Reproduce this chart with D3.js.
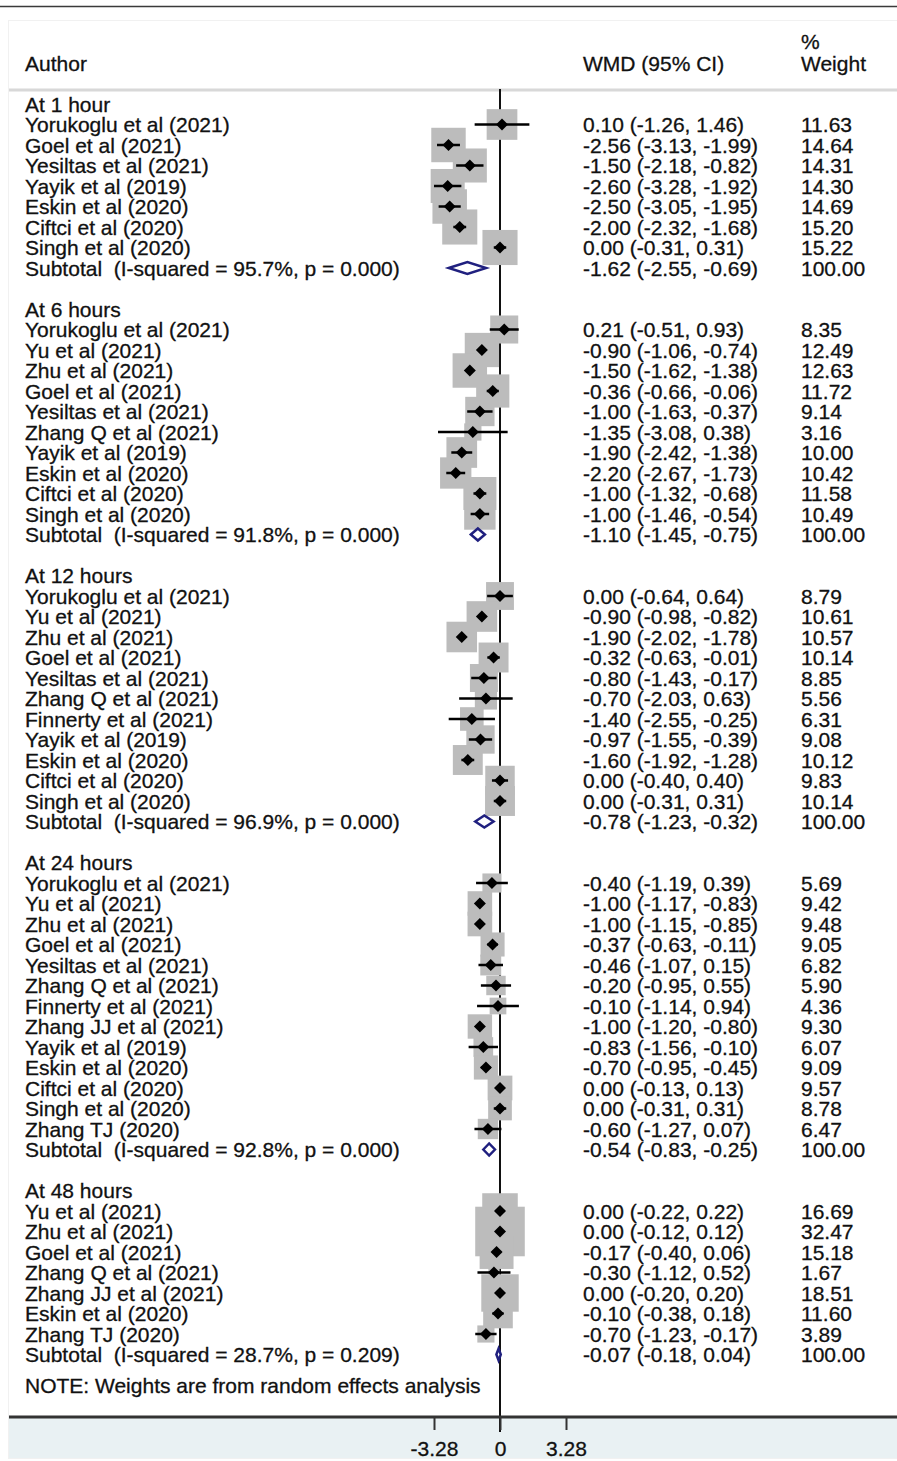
<!DOCTYPE html>
<html>
<head>
<meta charset="utf-8">
<script src="https://cdn.jsdelivr.net/npm/d3@7"></script>
<style>
  html, body { margin: 0; padding: 0; background: #fff; }
  svg text { font-family: "Liberation Sans", Arial, sans-serif; font-size: 21px; fill: #111; stroke: #111; stroke-width: 0.3px; white-space: pre; }
</style>
</head>
<body>
<svg id="chart" width="897" height="1461"></svg>
<script>
// Subgroups (time points) with their pooled random-effects estimates
const groupLabels   = ["At 1 hour", "At 6 hours", "At 12 hours", "At 24 hours", "At 48 hours"];
const subtotalHet   = ["I-squared = 95.7%, p = 0.000", "I-squared = 91.8%, p = 0.000", "I-squared = 96.9%, p = 0.000", "I-squared = 92.8%, p = 0.000", "I-squared = 28.7%, p = 0.209"];
const subtotalWMD   = [-1.62, -1.10, -0.78, -0.54, -0.07];
const subtotalLow   = [-2.55, -1.45, -1.23, -0.83, -0.18];
const subtotalHigh  = [-0.69, -0.75, -0.32, -0.25, 0.04];

// Individual studies, in display order, with the subgroup they belong to
const studyGroup = [
  0,0,0,0,0,0,0,
  1,1,1,1,1,1,1,1,1,1,
  2,2,2,2,2,2,2,2,2,2,2,
  3,3,3,3,3,3,3,3,3,3,3,3,3,
  4,4,4,4,4,4,4
];
const studyAuthor = [
  "Yorukoglu et al (2021)", "Goel et al (2021)", "Yesiltas et al (2021)", "Yayik et al (2019)", "Eskin et al (2020)", "Ciftci et al (2020)", "Singh et al (2020)",
  "Yorukoglu et al (2021)", "Yu et al (2021)", "Zhu et al (2021)", "Goel et al (2021)", "Yesiltas et al (2021)", "Zhang Q et al (2021)", "Yayik et al (2019)", "Eskin et al (2020)", "Ciftci et al (2020)", "Singh et al (2020)",
  "Yorukoglu et al (2021)", "Yu et al (2021)", "Zhu et al (2021)", "Goel et al (2021)", "Yesiltas et al (2021)", "Zhang Q et al (2021)", "Finnerty et al (2021)", "Yayik et al (2019)", "Eskin et al (2020)", "Ciftci et al (2020)", "Singh et al (2020)",
  "Yorukoglu et al (2021)", "Yu et al (2021)", "Zhu et al (2021)", "Goel et al (2021)", "Yesiltas et al (2021)", "Zhang Q et al (2021)", "Finnerty et al (2021)", "Zhang JJ et al (2021)", "Yayik et al (2019)", "Eskin et al (2020)", "Ciftci et al (2020)", "Singh et al (2020)", "Zhang TJ (2020)",
  "Yu et al (2021)", "Zhu et al (2021)", "Goel et al (2021)", "Zhang Q et al (2021)", "Zhang JJ et al (2021)", "Eskin et al (2020)", "Zhang TJ (2020)"
];
const studyWMD = [
  0.10, -2.56, -1.50, -2.60, -2.50, -2.00, 0.00,
  0.21, -0.90, -1.50, -0.36, -1.00, -1.35, -1.90, -2.20, -1.00, -1.00,
  0.00, -0.90, -1.90, -0.32, -0.80, -0.70, -1.40, -0.97, -1.60, 0.00, 0.00,
  -0.40, -1.00, -1.00, -0.37, -0.46, -0.20, -0.10, -1.00, -0.83, -0.70, 0.00, 0.00, -0.60,
  0.00, 0.00, -0.17, -0.30, 0.00, -0.10, -0.70
];
const studyLow = [
  -1.26, -3.13, -2.18, -3.28, -3.05, -2.32, -0.31,
  -0.51, -1.06, -1.62, -0.66, -1.63, -3.08, -2.42, -2.67, -1.32, -1.46,
  -0.64, -0.98, -2.02, -0.63, -1.43, -2.03, -2.55, -1.55, -1.92, -0.40, -0.31,
  -1.19, -1.17, -1.15, -0.63, -1.07, -0.95, -1.14, -1.20, -1.56, -0.95, -0.13, -0.31, -1.27,
  -0.22, -0.12, -0.40, -1.12, -0.20, -0.38, -1.23
];
const studyHigh = [
  1.46, -1.99, -0.82, -1.92, -1.95, -1.68, 0.31,
  0.93, -0.74, -1.38, -0.06, -0.37, 0.38, -1.38, -1.73, -0.68, -0.54,
  0.64, -0.82, -1.78, -0.01, -0.17, 0.63, -0.25, -0.39, -1.28, 0.40, 0.31,
  0.39, -0.83, -0.85, -0.11, 0.15, 0.55, 0.94, -0.80, -0.10, -0.45, 0.13, 0.31, 0.07,
  0.22, 0.12, 0.06, 0.52, 0.20, 0.18, -0.17
];
const studyWeight = [
  11.63, 14.64, 14.31, 14.30, 14.69, 15.20, 15.22,
  8.35, 12.49, 12.63, 11.72, 9.14, 3.16, 10.00, 10.42, 11.58, 10.49,
  8.79, 10.61, 10.57, 10.14, 8.85, 5.56, 6.31, 9.08, 10.12, 9.83, 10.14,
  5.69, 9.42, 9.48, 9.05, 6.82, 5.90, 4.36, 9.30, 6.07, 9.09, 9.57, 8.78, 6.47,
  16.69, 32.47, 15.18, 1.67, 18.51, 11.60, 3.89
];
const axisTicks = [-3.28, 0, 3.28];
const noteText = "NOTE: Weights are from random effects analysis";

// ---- layout ----
const W = 897;
const colAuthor = 25, colCI = 583, colWeight = 801;
const rowTop = 104, rowStep = 20.5, baseShift = 7.5;
const axisY = 1417;
// box side = scale * sqrt(weight); the scale follows each subgroup's share of the overall analysis
const boxScale = [9.0, 9.7, 9.4, 8.0, 8.7];

const x = d3.scaleLinear().domain([-3.28, 3.28]).range([434, 566]);
const f2 = v => v.toFixed(2);
const ciText = (m, l, h) => `${f2(m)} (${f2(l)}, ${f2(h)})`;

// build row list
const rows = [];
let r = 0;
groupLabels.forEach((g, gi) => {
  rows.push({ type: "head", row: r++, label: g });
  studyGroup.forEach((sg, si) => {
    if (sg === gi) rows.push({ type: "study", row: r++, gi, i: si });
  });
  rows.push({ type: "sub", row: r++, gi });
  r++; // blank spacer
});
const lastSubRow = rows.filter(d => d.type === "sub").pop().row;
const y = i => rowTop + i * rowStep;

const svg = d3.select("#chart");

// frame and rules
svg.append("rect").attr("x", 8.5).attr("y", 20.5).attr("width", W).attr("height", 1438)
  .attr("fill", "none").attr("stroke", "#f1f1f1");
svg.append("line").attr("x1", 0).attr("x2", W).attr("y1", 6.5).attr("y2", 6.5)
  .attr("stroke", "#3a3a3a").attr("stroke-width", 1.5);
svg.append("line").attr("x1", 9).attr("x2", W).attr("y1", 90).attr("y2", 90)
  .attr("stroke", "#d8d8d8").attr("stroke-width", 3);

// axis band
svg.append("rect").attr("x", 9).attr("y", axisY).attr("width", W - 9).attr("height", 1458 - axisY)
  .attr("fill", "#e9f1f3");

// header
const hdr = svg.append("g");
hdr.append("text").attr("x", colAuthor).attr("y", 71).text("Author");
hdr.append("text").attr("x", colCI).attr("y", 71).text("WMD (95% CI)");
hdr.append("text").attr("x", colWeight).attr("y", 49).text("%");
hdr.append("text").attr("x", colWeight).attr("y", 71).text("Weight");

// no-effect line
svg.append("line").attr("x1", x(0)).attr("x2", x(0)).attr("y1", 89).attr("y2", axisY + 15)
  .attr("stroke", "#111").attr("stroke-width", 2);

// weight boxes
const studies = rows.filter(d => d.type === "study");
svg.append("g").selectAll("rect").data(studies).join("rect")
  .attr("x", d => x(studyWMD[d.i]) - boxScale[d.gi] * Math.sqrt(studyWeight[d.i]) / 2)
  .attr("y", d => y(d.row) - boxScale[d.gi] * Math.sqrt(studyWeight[d.i]) / 2)
  .attr("width", d => boxScale[d.gi] * Math.sqrt(studyWeight[d.i]))
  .attr("height", d => boxScale[d.gi] * Math.sqrt(studyWeight[d.i]))
  .attr("fill", "#bcbcbc");

// confidence intervals
svg.append("g").selectAll("line").data(studies).join("line")
  .attr("x1", d => x(studyLow[d.i])).attr("x2", d => x(studyHigh[d.i]))
  .attr("y1", d => y(d.row)).attr("y2", d => y(d.row))
  .attr("stroke", "#000").attr("stroke-width", 2.5);

// point estimates
const pm = 6;
svg.append("g").selectAll("path").data(studies).join("path")
  .attr("d", d => {
    const cx = x(studyWMD[d.i]), cy = y(d.row);
    return `M${cx - pm},${cy}L${cx},${cy - pm}L${cx + pm},${cy}L${cx},${cy + pm}Z`;
  })
  .attr("fill", "#000");

// pooled diamonds
const subs = rows.filter(d => d.type === "sub");
const dh = 6;
svg.append("g").selectAll("path").data(subs).join("path")
  .attr("d", d => {
    const cy = y(d.row);
    const l = x(subtotalLow[d.gi]), m = x(subtotalWMD[d.gi]), h = x(subtotalHigh[d.gi]);
    return `M${l},${cy}L${m},${cy - dh}L${h},${cy}L${m},${cy + dh}Z`;
  })
  .attr("fill", "#fff").attr("stroke", "#20207f").attr("stroke-width", 2.5)
  .attr("stroke-linejoin", "miter");

// text columns
const txt = svg.append("g");
rows.forEach(d => {
  const by = y(d.row) + baseShift;
  if (d.type === "head") {
    txt.append("text").attr("x", colAuthor).attr("y", by).text(d.label);
  } else if (d.type === "study") {
    txt.append("text").attr("x", colAuthor).attr("y", by).text(studyAuthor[d.i]);
    txt.append("text").attr("x", colCI).attr("y", by).text(ciText(studyWMD[d.i], studyLow[d.i], studyHigh[d.i]));
    txt.append("text").attr("x", colWeight).attr("y", by).text(f2(studyWeight[d.i]));
  } else {
    txt.append("text").attr("x", colAuthor).attr("y", by).text(`Subtotal  (${subtotalHet[d.gi]})`);
    txt.append("text").attr("x", colCI).attr("y", by).text(ciText(subtotalWMD[d.gi], subtotalLow[d.gi], subtotalHigh[d.gi]));
    txt.append("text").attr("x", colWeight).attr("y", by).text("100.00");
  }
});
txt.append("text").attr("x", colAuthor).attr("y", y(lastSubRow + 1.5) + baseShift).text(noteText);

// x axis
svg.append("line").attr("x1", 9).attr("x2", W).attr("y1", axisY).attr("y2", axisY)
  .attr("stroke", "#333").attr("stroke-width", 3);
const ax = svg.append("g").attr("transform", `translate(0,${axisY})`)
  .call(d3.axisBottom(x).tickValues(axisTicks).tickSize(13).tickFormat(d => d === 0 ? "0" : d.toFixed(2)));
ax.select(".domain").remove();
ax.selectAll(".tick line").attr("stroke", "#333").attr("stroke-width", 2);
ax.selectAll(".tick text").attr("dy", 0).attr("y", 39)
  .style("font-family", "\"Liberation Sans\", Arial, sans-serif").style("font-size", "21px")
  .attr("fill", "#111").attr("stroke", "#111").attr("stroke-width", 0.3);
</script>
</body>
</html>
